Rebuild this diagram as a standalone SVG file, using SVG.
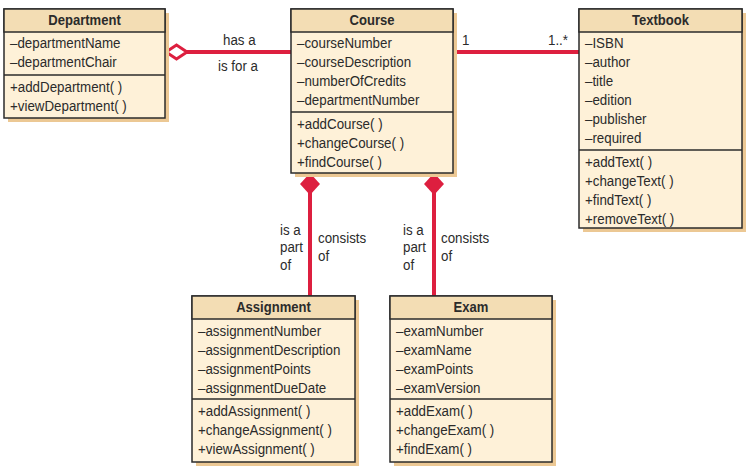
<svg xmlns="http://www.w3.org/2000/svg" width="746" height="468" viewBox="0 0 746 468">
<style>
.sh{fill:#ecc894}
.hd{fill:#f3ddb4;stroke:#2b2b2b;stroke-width:1.5}
.bd{fill:#fef1d8;stroke:#2b2b2b;stroke-width:1.5}
.t{font-family:"Liberation Sans",Arial,sans-serif;font-size:15px;fill:#2b2b2b;transform-box:fill-box;transform-origin:0 0;transform:scaleX(0.89)}
.h{font-family:"Liberation Sans",Arial,sans-serif;font-size:15px;font-weight:bold;fill:#2b2b2b;text-anchor:middle;transform-box:fill-box;transform-origin:50% 50%;transform:scaleX(0.87)}
.ln{stroke:#dd1f3f;stroke-width:4;fill:none}
</style>
<rect width="746" height="468" fill="#fff"/>
<g id="connectors">
<line class="ln" x1="184" y1="52" x2="291" y2="52"/>
<path d="M166,52 L176.5,45 L187,52 L176.5,59 Z" fill="#fff" stroke="#dd1f3f" stroke-width="3"/>
<line class="ln" x1="453" y1="52" x2="579" y2="52"/>
<line class="ln" x1="310" y1="190" x2="310" y2="296"/>
<path d="M310,173 L320,184 L310,195 L300,184 Z" fill="#dd1f3f"/>
<line class="ln" x1="434" y1="190" x2="434" y2="296"/>
<path d="M434,173 L444,184 L434,195 L424,184 Z" fill="#dd1f3f"/>
<text class="t" x="223" y="45">has a</text>
<text class="t" x="218" y="71">is for a</text>
<text class="t" x="462" y="45">1</text>
<text class="t" x="548" y="45">1..*</text>
<text class="t" x="280" y="235">is a</text>
<text class="t" x="280" y="252">part</text>
<text class="t" x="280" y="270">of</text>
<text class="t" x="318" y="243">consists</text>
<text class="t" x="318" y="261">of</text>
<text class="t" x="403" y="235">is a</text>
<text class="t" x="403" y="252">part</text>
<text class="t" x="403" y="270">of</text>
<text class="t" x="441" y="243">consists</text>
<text class="t" x="441" y="261">of</text>
</g>
<g id="department">
<rect class="sh" x="8" y="13" width="161" height="109"/>
<rect class="bd" x="4" y="9" width="161" height="109"/>
<rect class="hd" x="4" y="9" width="161" height="23"/>
<line x1="4" y1="75" x2="165" y2="75" stroke="#2b2b2b" stroke-width="1.5"/>
<text class="h" x="84.5" y="25">Department</text>
<text class="t" x="10" y="48">–departmentName</text>
<text class="t" x="10" y="67">–departmentChair</text>
<text class="t" x="10" y="92">+addDepartment( )</text>
<text class="t" x="10" y="111">+viewDepartment( )</text>
</g>
<g id="course">
<rect class="sh" x="295" y="13" width="162" height="164"/>
<rect class="bd" x="291" y="9" width="162" height="164"/>
<rect class="hd" x="291" y="9" width="162" height="23"/>
<line x1="291" y1="112" x2="453" y2="112" stroke="#2b2b2b" stroke-width="1.5"/>
<text class="h" x="372" y="25">Course</text>
<text class="t" x="297" y="48">–courseNumber</text>
<text class="t" x="297" y="67">–courseDescription</text>
<text class="t" x="297" y="86">–numberOfCredits</text>
<text class="t" x="297" y="105">–departmentNumber</text>
<text class="t" x="297" y="129">+addCourse( )</text>
<text class="t" x="297" y="148">+changeCourse( )</text>
<text class="t" x="297" y="167">+findCourse( )</text>
</g>
<g id="textbook">
<rect class="sh" x="583" y="13" width="163" height="219"/>
<rect class="bd" x="579" y="9" width="163" height="219"/>
<rect class="hd" x="579" y="9" width="163" height="23"/>
<line x1="579" y1="150" x2="742" y2="150" stroke="#2b2b2b" stroke-width="1.5"/>
<text class="h" x="660.5" y="25">Textbook</text>
<text class="t" x="585" y="48">–ISBN</text>
<text class="t" x="585" y="67">–author</text>
<text class="t" x="585" y="86">–title</text>
<text class="t" x="585" y="105">–edition</text>
<text class="t" x="585" y="124">–publisher</text>
<text class="t" x="585" y="143">–required</text>
<text class="t" x="585" y="167">+addText( )</text>
<text class="t" x="585" y="186">+changeText( )</text>
<text class="t" x="585" y="205">+findText( )</text>
<text class="t" x="585" y="224">+removeText( )</text>
</g>
<g id="assignment">
<rect class="sh" x="196" y="300" width="163" height="166"/>
<rect class="bd" x="192" y="296" width="163" height="166"/>
<rect class="hd" x="192" y="296" width="163" height="23"/>
<line x1="192" y1="399" x2="355" y2="399" stroke="#2b2b2b" stroke-width="1.5"/>
<text class="h" x="273.5" y="312">Assignment</text>
<text class="t" x="198" y="336">–assignmentNumber</text>
<text class="t" x="198" y="355">–assignmentDescription</text>
<text class="t" x="198" y="374">–assignmentPoints</text>
<text class="t" x="198" y="393">–assignmentDueDate</text>
<text class="t" x="198" y="416">+addAssignment( )</text>
<text class="t" x="198" y="435">+changeAssignment( )</text>
<text class="t" x="198" y="454">+viewAssignment( )</text>
</g>
<g id="exam">
<rect class="sh" x="394" y="300" width="162" height="166"/>
<rect class="bd" x="390" y="296" width="162" height="166"/>
<rect class="hd" x="390" y="296" width="162" height="23"/>
<line x1="390" y1="399" x2="552" y2="399" stroke="#2b2b2b" stroke-width="1.5"/>
<text class="h" x="471" y="312">Exam</text>
<text class="t" x="396" y="336">–examNumber</text>
<text class="t" x="396" y="355">–examName</text>
<text class="t" x="396" y="374">–examPoints</text>
<text class="t" x="396" y="393">–examVersion</text>
<text class="t" x="396" y="416">+addExam( )</text>
<text class="t" x="396" y="435">+changeExam( )</text>
<text class="t" x="396" y="454">+findExam( )</text>
</g>
</svg>
